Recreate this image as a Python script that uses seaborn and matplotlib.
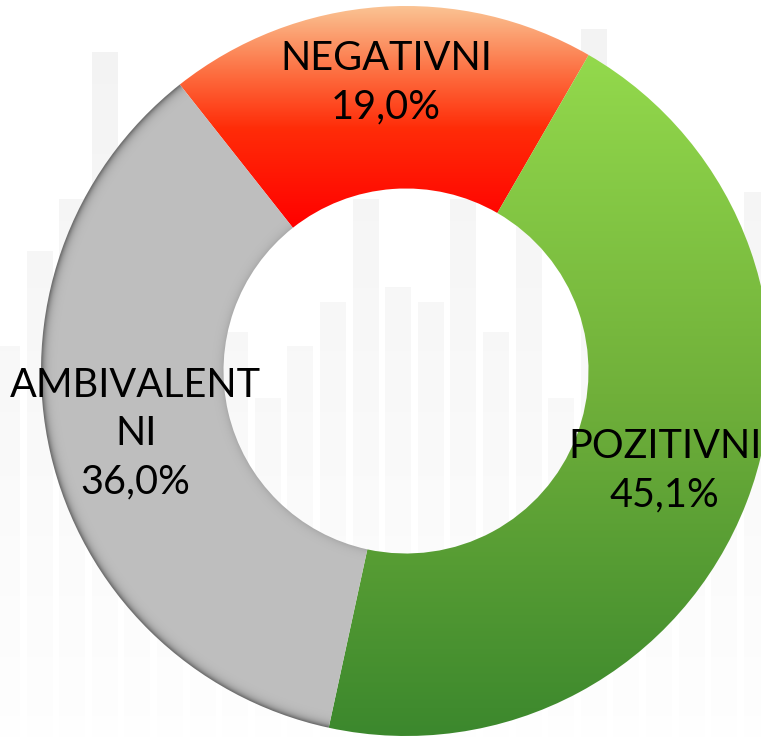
import numpy as np
import pandas as pd
import seaborn as sns
import matplotlib.pyplot as plt
from matplotlib.colors import LinearSegmentedColormap
from matplotlib.transforms import ScaledTranslation

# ==================== data ====================
categories = ["NEGATIVNI", "POZITIVNI", "AMBIVALENT\nNI"]
shares = [19.0, 45.1, 36.0]

# faint decorative bars in the background (relative height)
bg_heights = [0.53, 0.66, 0.73, 0.93, 0.60, 0.50, 0.68, 0.55,
              0.46, 0.53, 0.59, 0.73, 0.61, 0.59, 0.73, 0.55,
              0.71, 0.46, 0.96, 0.64, 0.58, 0.42, 0.35, 0.74]

# ==================== style ====================
sns.set_style("white")
plt.rcParams["font.family"] = ["Lato", "DejaVu Sans"]

W, H = 761, 737
R = 365.0          # outer radius in px
CX, CY = 406, 371  # donut centre in px (from top-left)

fig = plt.figure(figsize=(W / 100, H / 100), dpi=100)

# ==================== background bars ====================
ax_bg = fig.add_axes([0, 0, 1, 1])
bg = pd.DataFrame({"i": range(len(bg_heights)), "h": bg_heights})
sns.barplot(data=bg, x="i", y="h", color="#F3F3F3", saturation=1,
            width=0.8, linewidth=0, errorbar=None, ax=ax_bg)
ax_bg.set_xlim(-7 / 32.6, (W - 7) / 32.6)
ax_bg.set_ylim(0, 1)
fade = np.zeros((256, 2, 4))
fade[..., :3] = 1.0
fade[..., 3] = (np.linspace(0, 1, 256) ** 1.1 * 0.95)[:, None]
ax_bg.imshow(fade, extent=(*ax_bg.get_xlim(), 0, 1), aspect="auto", zorder=5)
ax_bg.axis("off")

# ==================== donut ====================
ax = fig.add_axes([0, 0, 1, 1])
ax.patch.set_alpha(0)
labels = [f"{c}\n{v:.1f}%".replace(".", ",") for c, v in zip(categories, shares)]
wedges, texts = ax.pie(
    shares, labels=labels, startangle=128.3, counterclock=False, radius=1,
    labeldistance=0.76,
    wedgeprops=dict(width=0.5, linewidth=0),
    textprops=dict(ha="center", va="center", fontsize=28.5, color="black",
                   linespacing=1.38, multialignment="center"),
)
# the top label sits a little higher in the original
texts[0].set_transform(texts[0].get_transform()
                       + ScaledTranslation(0, 0.12, fig.dpi_scale_trans))

n = 500
yy, xx = np.mgrid[1:-1:n * 1j, -1:1:n * 1j]
rr = np.hypot(xx, yy)


def vertical(y_top, y_bot, stops):
    cmap = LinearSegmentedColormap.from_list("g", stops)
    t = np.clip((y_top - yy) / (y_top - y_bot), 0, 1)
    return cmap(t)


def py(p):
    return (CY - p) / R


neg_img = vertical(py(6), py(228), [(0, "#FAC292"), (0.3, "#FD6E40"),
                                    (0.55, "#FF2C08"), (1, "#FF0000")])
pos_img = vertical(py(55), py(735), [(0, "#93D94C"), (0.5, "#70B03A"),
                                     (1, "#3C882D")])
base = 191 / 255
shade = 1 - 0.42 * np.exp(-np.clip(1 - rr, 0, None) * R / 3.5) \
          - 0.12 * np.exp(-np.clip(rr - 0.5, 0, None) * R / 4.0)
gray_img = np.ones((n, n, 4))
gray_img[..., :3] = (base * shade)[..., None]

for wedge, img in zip(wedges, [neg_img, pos_img, gray_img]):
    wedge.set_facecolor("none")
    im = ax.imshow(img, extent=(-1, 1, -1, 1), zorder=1.5, interpolation="bilinear")
    im.set_clip_path(wedge)

ax.set_xlim(-CX / R, (W - CX) / R)
ax.set_ylim(-(H - CY) / R, CY / R)
ax.set_aspect("equal")
ax.axis("off")

fig.savefig("out.png", dpi=100)
